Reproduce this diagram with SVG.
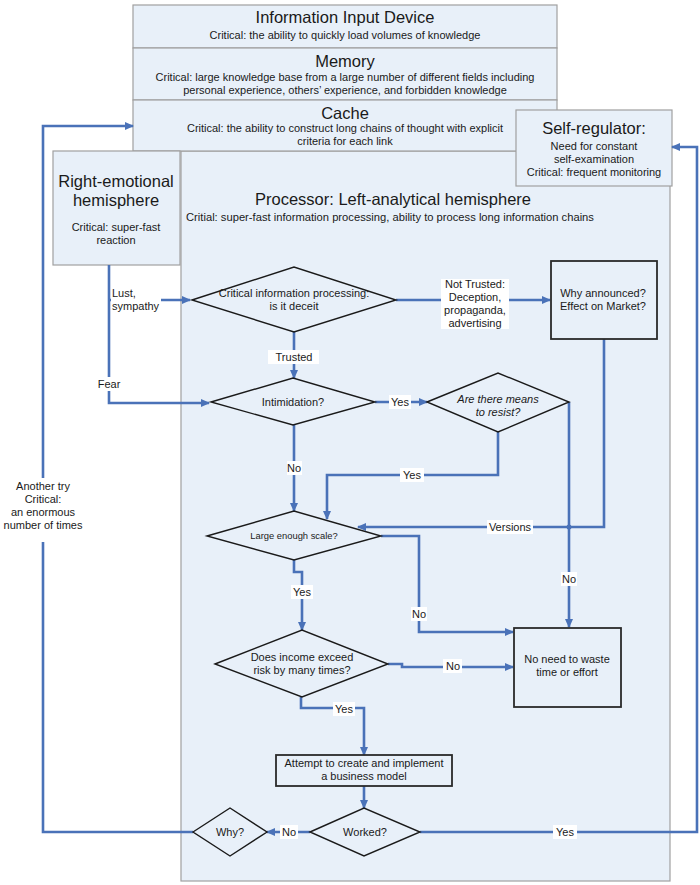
<svg xmlns="http://www.w3.org/2000/svg" width="700" height="885" viewBox="0 0 700 885">
<defs>
<style>
text{font-family:"Liberation Sans",Arial,sans-serif;fill:#1a1a1a;text-anchor:middle}
.box{fill:#e8f0f9;stroke:#a0a0a0;stroke-width:1.2}
.t{font-size:16.5px}
.s{font-size:11px}
.m{font-size:11px}
.d{fill:none;stroke:#1a1a1a;stroke-width:1.4}
.r{fill:none;stroke:#2a2a2a;stroke-width:1.8}
.c{fill:none;stroke:#4a72b8;stroke-width:2.6}
.a{marker-end:url(#ah)}
.lb{fill:#ffffff}
</style>
<marker id="ah" markerUnits="userSpaceOnUse" markerWidth="9" markerHeight="8" refX="8" refY="4" orient="auto">
<path d="M0,0 L9,4 L0,8 Z" fill="#4a72b8"/>
</marker>
</defs>

<g id="processor">
<rect class="box" x="181" y="151" width="489" height="730"/>
<text class="t" x="393" y="205">Processor: Left-analytical hemisphere</text>
<text class="s" x="390" y="221" style="font-size:11.2px">Critial: super-fast information processing, ability to process long information chains</text>
</g>

<g id="input-device">
<rect class="box" x="133" y="5" width="424" height="43"/>
<text class="t" x="345" y="23">Information Input Device</text>
<text class="s" x="345" y="39">Critical: the ability to quickly load volumes of knowledge</text>
</g>
<g id="memory">
<rect class="box" x="133" y="48" width="424" height="52"/>
<text class="t" x="345" y="67">Memory</text>
<text class="s" x="345" y="81">Critical: large knowledge base from a large number of different fields including</text>
<text class="s" x="345" y="94">personal experience, others’ experience, and forbidden knowledge</text>
</g>
<g id="cache">
<rect class="box" x="133" y="100" width="424" height="51"/>
<text class="t" x="345" y="119">Cache</text>
<text class="s" x="345" y="132">Critical: the ability to construct long chains of thought with explicit</text>
<text class="s" x="345" y="145">criteria for each link</text>
</g>
<g id="right-emotional">
<rect class="box" x="53" y="151" width="127" height="114"/>
<text class="t" x="116" y="187">Right-emotional</text>
<text class="t" x="116" y="206">hemisphere</text>
<text class="m" x="116" y="231">Critical: super-fast</text>
<text class="m" x="116" y="244">reaction</text>
</g>
<g id="self-regulator">
<rect class="box" x="516" y="110" width="156" height="76"/>
<text class="t" x="594" y="134">Self-regulator:</text>
<text class="m" x="594" y="150">Need for constant</text>
<text class="m" x="594" y="163">self-examination</text>
<text class="m" x="594" y="176">Critical: frequent monitoring</text>
</g>

<g id="connectors">
<path class="c a" d="M109,265 V403 H209"/>
<path class="c a" d="M109,300 H190"/>
<path class="c a" d="M396,300 H550"/>
<path class="c a" d="M294,332 V378"/>
<path class="c a" d="M375,402 H427"/>
<path class="c a" d="M498,432 V475 H327 V519"/>
<path class="c a" d="M569,402 V627"/>
<path class="c a" d="M604,339 V527 H358"/>
<circle cx="569" cy="527" r="2.5" fill="#4a72b8"/>
<path class="c a" d="M294,425 V511"/>
<path class="c a" d="M381,536 H419 V632 H513"/>
<path class="c a" d="M294,560 V572 H302 V630"/>
<path class="c a" d="M388,664 H402 V667 H513"/>
<path class="c a" d="M301,697 V708 H364 V755"/>
<path class="c a" d="M364,786 V808"/>
<path class="c a" d="M310,832 H267"/>
<path class="c a" d="M193,832 H43 V126 H133"/>
<path class="c a" d="M420,832 H697 V147 H672"/>

<rect class="lb" x="111" y="287" width="50" height="26"/>
<text class="m" x="112" y="297" style="text-anchor:start">Lust,</text>
<text class="m" x="112" y="310" style="text-anchor:start">sympathy</text>
<rect class="lb" x="95" y="377" width="28" height="14"/>
<text class="m" x="109" y="388">Fear</text>
<rect class="lb" x="441" y="279" width="68" height="50"/>
<text class="m" x="475" y="288">Not Trusted:</text>
<text class="m" x="475" y="301">Deception,</text>
<text class="m" x="475" y="314">propaganda,</text>
<text class="m" x="475" y="327">advertising</text>
<rect class="lb" x="268" y="350" width="51" height="14"/>
<text class="m" x="294" y="361">Trusted</text>
<rect class="lb" x="389" y="395" width="22" height="14"/>
<text class="m" x="400" y="406">Yes</text>
<rect class="lb" x="400" y="468" width="24" height="14"/>
<text class="m" x="412" y="479">Yes</text>
<rect class="lb" x="287" y="461" width="15" height="14"/>
<text class="m" x="294" y="472">No</text>
<rect class="lb" x="487" y="520" width="46" height="14"/>
<text class="m" x="510" y="531">Versions</text>
<rect class="lb" x="561" y="572" width="16" height="14"/>
<text class="m" x="569" y="583">No</text>
<rect class="lb" x="411" y="607" width="16" height="14"/>
<text class="m" x="419" y="618">No</text>
<rect class="lb" x="291" y="585" width="22" height="14"/>
<text class="m" x="302" y="596">Yes</text>
<rect class="lb" x="443" y="659" width="19" height="14"/>
<text class="m" x="453" y="670">No</text>
<rect class="lb" x="333" y="702" width="22" height="14"/>
<text class="m" x="344" y="713">Yes</text>
<rect class="lb" x="280" y="825" width="18" height="14"/>
<text class="m" x="289" y="836">No</text>
<rect class="lb" x="553" y="825" width="24" height="14"/>
<text class="m" x="565" y="836">Yes</text>
<rect class="lb" x="4" y="478" width="80" height="64"/>
<text class="m" x="43" y="490">Another try</text>
<text class="m" x="43" y="503">Critical:</text>
<text class="m" x="43" y="516">an enormous</text>
<text class="m" x="43" y="529">number of times</text>
</g>

<g id="critical-info">
<path class="d" d="M192,300 L294,267 L396,300 L294,332 Z"/>
<text class="s" x="294" y="297">Critical information processing:</text>
<text class="s" x="294" y="310">is it deceit</text>
</g>
<g id="why-announced">
<rect class="r" x="551" y="261" width="106" height="78"/>
<text class="s" x="603" y="297">Why announced?</text>
<text class="s" x="603" y="310">Effect on Market?</text>
</g>
<g id="intimidation">
<path class="d" d="M211,402 L293,378 L375,402 L293,425 Z"/>
<text class="s" x="293" y="406">Intimidation?</text>
</g>
<g id="means-to-resist">
<path class="d" d="M427,402 L498,373 L569,402 L498,432 Z"/>
<text class="s" x="498" y="403" style="font-style:italic">Are there means</text>
<text class="s" x="498" y="416" style="font-style:italic">to resist?</text>
</g>
<g id="large-scale">
<path class="d" d="M207,536 L294,511 L381,536 L294,560 Z"/>
<text class="s" x="294" y="539" style="font-size:9.4px">Large enough scale?</text>
</g>
<g id="income-risk">
<path class="d" d="M215,664 L302,630 L388,664 L302,697 Z"/>
<text class="s" x="302" y="661">Does income exceed</text>
<text class="s" x="302" y="674">risk by many times?</text>
</g>
<g id="no-need">
<rect class="r" x="514" y="628" width="107" height="79"/>
<text class="s" x="567" y="663">No need to waste</text>
<text class="s" x="567" y="676">time or effort</text>
</g>
<g id="attempt">
<rect class="r" x="276" y="755" width="176" height="31"/>
<text class="s" x="364" y="767">Attempt to create and implement</text>
<text class="s" x="364" y="780">a business model</text>
</g>
<g id="worked">
<path class="d" d="M310,832 L364,808 L420,832 L364,856 Z"/>
<text class="s" x="365" y="836">Worked?</text>
</g>
<g id="why">
<path class="d" d="M193,832 L230,808 L267,832 L230,856 Z"/>
<text class="s" x="230" y="836">Why?</text>
</g>
</svg>
